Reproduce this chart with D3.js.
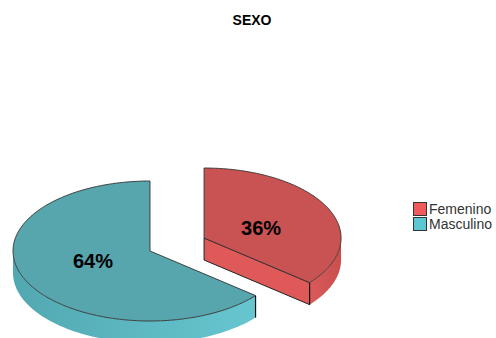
<!DOCTYPE html>
<html>
<head>
<meta charset="utf-8">
<script src="https://cdn.jsdelivr.net/npm/d3@7"></script>
<style>
  html, body { margin: 0; padding: 0; background: #fff; }
  svg { display: block; }
</style>
</head>
<body>
<svg id="chart" width="496" height="338"></svg>
<script>
const title = "SEXO";
const categories = ["Femenino", "Masculino"];
const values = [36, 64];
const valueLabels = ["36%", "64%"];

const W = 496, H = 338;
const cx = 150, cy = 251, rx = 137, ry = 70, depth = 22;
const explode = [0.436, 0];
const labelRx = 0.46, labelRy = 0.33;

const topColors = ["#C95252", "#57A5AD"];
const faceColors = ["#E05959", "#5FBCC6"];
const wallDark = ["#C94F4F", "#52A8B1"];
const wallLight = ["#DA5A5A", "#66C6D0"];
const legendColors = ["#F05A5A", "#5DC8D4"];

const svg = d3.select("#chart");
const defs = svg.append("defs");

svg.append("text")
  .attr("x", 252).attr("y", 25)
  .attr("text-anchor", "middle")
  .attr("font-family", "Liberation Sans, Arial, sans-serif")
  .attr("font-weight", "bold")
  .attr("font-size", 14)
  .attr("fill", "#000")
  .text(title);

const pie = d3.pie().sort(null).startAngle(0).endAngle(2 * Math.PI);
const arcs = pie(values);

function proj(ox, oy, a, r, z, rr) {
  const r2 = rr === undefined ? r : rr;
  return [ox + rx * r * Math.sin(a), oy - ry * r2 * Math.cos(a) + z];
}
const line = d3.line();

arcs.forEach((d, i) => {
  const mid = (d.startAngle + d.endAngle) / 2;
  const ox = cx + rx * explode[i] * Math.sin(mid);
  const oy = cy - ry * explode[i] * Math.cos(mid);
  const g = svg.append("g");

  const gradId = "wall" + i;
  const grad = defs.append("linearGradient").attr("id", gradId)
    .attr("x1", "0%").attr("x2", "100%").attr("y1", "0%").attr("y2", "0%");
  if (i === 0) {
    grad.append("stop").attr("offset", "0%").attr("stop-color", wallLight[i]);
    grad.append("stop").attr("offset", "100%").attr("stop-color", wallDark[i]);
  } else {
    grad.append("stop").attr("offset", "0%").attr("stop-color", wallDark[i]);
    grad.append("stop").attr("offset", "100%").attr("stop-color", wallLight[i]);
  }

  // radial faces
  [[d.startAngle, -1], [d.endAngle, 1]].forEach(([a, s]) => {
    const vis = s * Math.sin(a);
    if (vis > 1e-3) {
      const pts = [proj(ox, oy, a, 0, 0), proj(ox, oy, a, 1, 0), proj(ox, oy, a, 1, depth), proj(ox, oy, a, 0, depth)];
      g.append("path").attr("d", line(pts) + "Z")
        .attr("fill", faceColors[i]).attr("stroke", "#222").attr("stroke-width", 1)
        .attr("stroke-linejoin", "round");
    }
  });

  // outer wall (front half visible)
  const a1 = Math.max(d.startAngle, Math.PI / 2);
  const a2 = Math.min(d.endAngle, 3 * Math.PI / 2);
  if (a2 > a1) {
    const n = 80;
    const angs = d3.range(n + 1).map(k => a1 + (a2 - a1) * k / n);
    const topPts = angs.map(a => proj(ox, oy, a, 1, 0));
    const botPts = angs.slice().reverse().map(a => proj(ox, oy, a, 1, depth));
    g.append("path").attr("d", line(topPts.concat(botPts)) + "Z")
      .attr("fill", `url(#${gradId})`).attr("stroke", "none");
    [a1, a2].forEach(a => {
      if (Math.abs(a - Math.PI / 2) > 1e-3 && Math.abs(a - 3 * Math.PI / 2) > 1e-3) {
        g.append("path").attr("d", line([proj(ox, oy, a, 1, 0), proj(ox, oy, a, 1, depth)]))
          .attr("stroke", "#111").attr("stroke-width", 1.2).attr("fill", "none");
      }
    });
  }

  // top face
  const n2 = 160;
  const angs2 = d3.range(n2 + 1).map(k => d.startAngle + (d.endAngle - d.startAngle) * k / n2);
  const facePts = [proj(ox, oy, 0, 0, 0)].concat(angs2.map(a => proj(ox, oy, a, 1, 0)));
  g.append("path").attr("d", line(facePts) + "Z")
    .attr("fill", topColors[i]).attr("stroke", "#333").attr("stroke-width", 0.9)
    .attr("stroke-linejoin", "round");

  // label
  const lp = proj(ox, oy, mid, labelRx, 0, labelRy);
  g.append("text")
    .attr("x", lp[0]).attr("y", lp[1])
    .attr("dy", "0.36em")
    .attr("text-anchor", "middle")
    .attr("font-family", "Liberation Sans, Arial, sans-serif")
    .attr("font-weight", "bold")
    .attr("font-size", 20)
    .attr("fill", "#000")
    .text(valueLabels[i]);
});

// legend
const legend = svg.append("g").attr("transform", "translate(413,202)");
categories.forEach((c, i) => {
  const row = legend.append("g").attr("transform", `translate(0,${i * 15})`);
  row.append("rect").attr("x", 0.5).attr("y", 0.5).attr("width", 13).attr("height", 13)
    .attr("fill", legendColors[i]).attr("stroke", "#333").attr("stroke-width", 1);
  row.append("text").attr("x", 16).attr("y", 12)
    .attr("font-family", "Liberation Sans, Arial, sans-serif")
    .attr("font-size", 14).attr("fill", "#333")
    .text(c);
});
</script>
</body>
</html>
